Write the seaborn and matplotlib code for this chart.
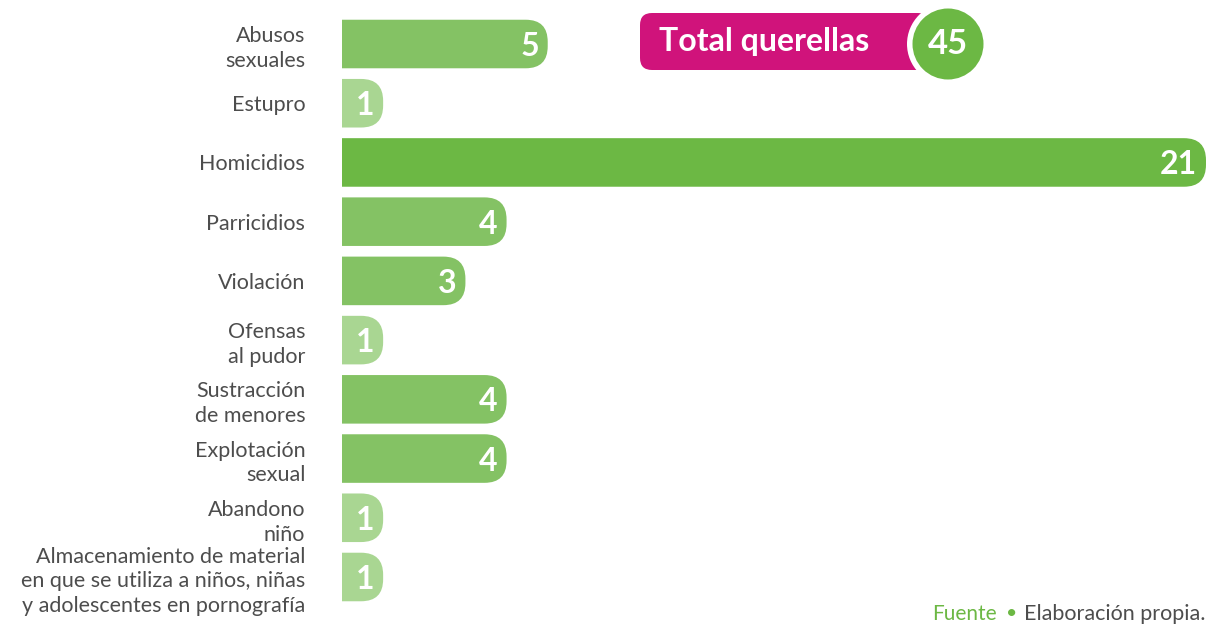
import numpy as np
import pandas as pd
import matplotlib
matplotlib.use("Agg")
import matplotlib.pyplot as plt
from matplotlib.patches import FancyBboxPatch, Circle
from matplotlib.transforms import IdentityTransform
import seaborn as sns

categorias = [
    "Abusos\nsexuales",
    "Estupro",
    "Homicidios",
    "Parricidios",
    "Violación",
    "Ofensas\nal pudor",
    "Sustracción\nde menores",
    "Explotación\nsexual",
    "Abandono\nniño",
    "Almacenamiento de material\nen que se utiliza a niños, niñas\ny adolescentes en pornografía",
]
querellas = [5, 1, 21, 4, 3, 1, 4, 4, 1, 1]

verde_osc = "#6cb844"
verde_med = "#84c264"
verde_cla = "#a9d692"
magenta = "#d0137b"
gris = "#4d4d4d"

df = pd.DataFrame({"delito": categorias, "n": querellas})
paleta = {}
for c, v in zip(categorias, querellas):
    if v == max(querellas):
        paleta[c] = verde_osc
    elif v == 1:
        paleta[c] = verde_cla
    else:
        paleta[c] = verde_med

sns.set_style("white")
plt.rcParams["font.family"] = ["Lato", "DejaVu Sans"]

W, H = 1206, 626
fig = plt.figure(figsize=(W / 100, H / 100), dpi=100)
ax = fig.add_axes([342 / W, 1 - 606.6 / H, 864 / W, 592.2 / H])

sns.barplot(data=df, y="delito", x="n", hue="delito", palette=paleta,
            saturation=1, legend=False, orient="h", width=0.82, ax=ax)
ax.set_xlim(0, max(querellas))
ax.set_ylim(len(categorias) - 0.5, -0.5)

# bars with rounded right end (left end hidden behind the axis edge)
x_px = 864 / max(querellas)
y_px = 592.2 / len(categorias)
r_px = 22
for p in list(ax.patches):
    x0, y0 = p.get_x(), p.get_y()
    w, h = p.get_width(), p.get_height()
    col = p.get_facecolor()
    p.remove()
    ax.add_patch(FancyBboxPatch((x0 - 1.5, y0), w + 1.5, h,
                                boxstyle=f"round,pad=0,rounding_size={r_px / x_px}",
                                mutation_aspect=x_px / y_px,
                                fc=col, ec="none", clip_on=True))
    ax.text(x0 + w - 9 / x_px, y0 + h / 2, str(int(round(w))), ha="right",
            va="center_baseline", color="white", fontsize=23, fontweight="bold")

for s in ax.spines.values():
    s.set_visible(False)
ax.set_xticks([])
ax.set_xlabel("")
ax.set_ylabel("")
ax.tick_params(axis="y", length=0, pad=26.5)
for t in ax.get_yticklabels():
    t.set_fontsize(15.5)
    t.set_color(gris)
    t.set_multialignment("right")
    t.set_linespacing(1.3)

# total badge (pixel coordinates)
tr = IdentityTransform()
fig.add_artist(FancyBboxPatch((640, H - 70), 290, 57,
                              boxstyle="round,pad=0,rounding_size=12",
                              fc=magenta, ec="none", transform=tr))
fig.add_artist(Circle((948, H - 44), 41, fc="white", ec="none", transform=tr))
fig.add_artist(Circle((948, H - 44), 35.5, fc=verde_osc, ec="none", transform=tr))
fig.text(659 / W, 1 - 42 / H, "Total querellas", color="white", fontsize=23,
         fontweight="bold", ha="left", va="center")
fig.text(948 / W, 1 - 44 / H, str(sum(querellas)), color="white", fontsize=25,
         fontweight="bold", ha="center", va="center")

# source
fig.text(1205 / W, 1 - 614 / H, "Elaboración propia.", color=gris, fontsize=15.5,
         ha="right", va="center")
fig.text(1012 / W, 1 - 614 / H, "•", color=verde_osc, fontsize=14,
         ha="center", va="center")
fig.text(997 / W, 1 - 614 / H, "Fuente", color=verde_osc, fontsize=15,
         ha="right", va="center")

fig.savefig("out.png", dpi=100)
